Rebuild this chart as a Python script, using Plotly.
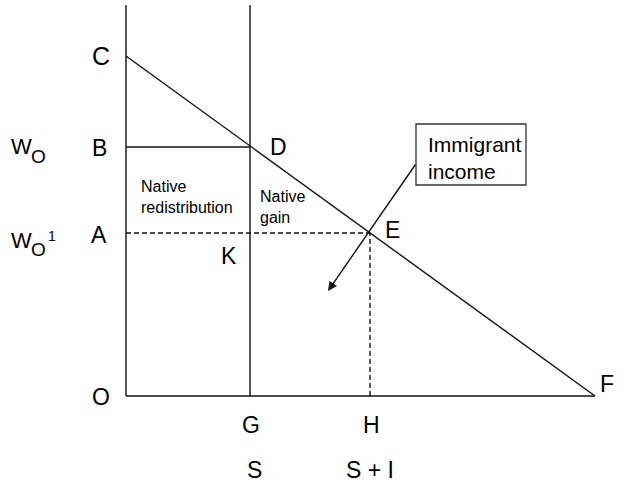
import plotly.graph_objects as go

# Diagram values (in plot units)
x_G, x_H, x_F = 124, 244, 469      # S, S + I, demand intercept
y_C, y_B, y_A = 340, 249, 163      # demand intercept, Wo, Wo1
y_top = 391

axis_labels_bottom = ["S", "S + I"]

LW = 1.4
BLK = "#111111"
FONT = "Liberation Sans, Arial, sans-serif"

fig = go.Figure()

def seg(xs, ys, dash="solid"):
    fig.add_trace(go.Scatter(x=xs, y=ys, mode="lines",
                             line=dict(color=BLK, width=LW, dash=dash),
                             hoverinfo="skip", showlegend=False))

# axes
seg([0, 0], [0, y_top])
seg([0, x_F], [0, 0])
# demand curve
seg([0, x_F], [y_C, 0])
# S vertical
seg([x_G, x_G], [0, y_top])
# Wo horizontal
seg([0, x_G], [y_B, y_B])
# Wo1 dashed and H dashed
seg([0, x_H], [y_A, y_A], dash="5px,3px")
seg([x_H, x_H], [0, y_A], dash="5px,3px")

def lab(text, x, y, size=23, xanchor="center"):
    fig.add_annotation(x=x, y=y, text=text, showarrow=False,
                       font=dict(family=FONT, size=size, color="black"),
                       xanchor=xanchor, yanchor="middle")

lab("C", -25, 340, size=25)
lab("B", -27, 248)
lab("A", -27, 161)
lab("O", -25, -1)
# W_O and W_O^1 labels
lab("W", -105, 249.5, size=22)
lab("O", -87.5, 239.5, size=19)
lab("W", -105, 156, size=22)
lab("O", -87.5, 146.5, size=19)
lab("1", -74.5, 160, size=14)

lab("D", 152, 249)
lab("E", 266, 166)
lab("K", 103, 140)
lab("F", 481, 12)
lab("G", 125, -29)
lab("H", 245, -29)
lab(axis_labels_bottom[0], 128, -74)
lab(axis_labels_bottom[1], 244, -74)

fig.add_annotation(x=13, y=199, text="Native<br>redistribution", showarrow=False,
                   font=dict(family=FONT, size=16, color="black"),
                   xanchor="left", yanchor="middle", align="left")
fig.add_annotation(x=132, y=189, text="Native<br>gain", showarrow=False,
                   font=dict(family=FONT, size=16, color="black"),
                   xanchor="left", yanchor="middle", align="left")

# Immigrant income box
fig.add_shape(type="rect", x0=290, x1=400, y0=211, y1=272,
              line=dict(color="#333333", width=1.3), fillcolor="white")
fig.add_annotation(x=300, y=238, text="Immigrant<br>income", showarrow=False,
                   font=dict(family=FONT, size=21, color="black"),
                   xanchor="left", yanchor="middle", align="left")
# Arrow
fig.add_annotation(x=202, y=105, ax=290.5, ay=233, axref="x", ayref="y",
                   xref="x", yref="y", text="", showarrow=True,
                   arrowhead=2, arrowsize=1.3, arrowwidth=1.4, arrowcolor=BLK)

fig.update_xaxes(range=[-126, 504], visible=False, showgrid=False, zeroline=False)
fig.update_yaxes(range=[-88, 396], visible=False, showgrid=False, zeroline=False)
fig.update_layout(width=630, height=484, margin=dict(l=0, r=0, t=0, b=0),
                  plot_bgcolor="white", paper_bgcolor="white")

fig.write_html("out.html", config={"displayModeBar": False},
               post_script="document.body.style.margin='0px';")
